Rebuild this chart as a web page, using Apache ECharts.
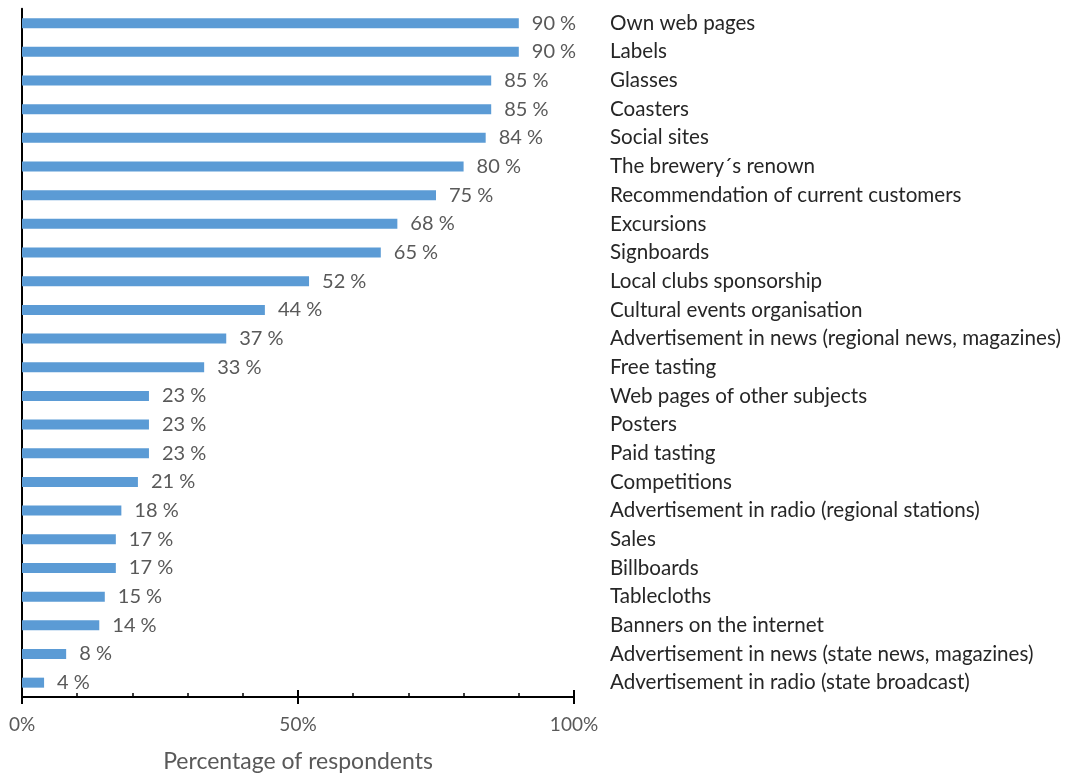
<!DOCTYPE html>
<html>
<head>
<meta charset="utf-8">
<script src="https://cdn.jsdelivr.net/npm/echarts@6/dist/echarts.min.js"></script>
<style>
html,body{margin:0;padding:0;background:#fff;}
#chart{width:1066px;height:778px;}
</style>
</head>
<body>
<div id="chart"></div>
<script>
const categories = [
  "Own web pages",
  "Labels",
  "Glasses",
  "Coasters",
  "Social sites",
  "The brewery´s renown",
  "Recommendation of current customers",
  "Excursions",
  "Signboards",
  "Local clubs sponsorship",
  "Cultural events organisation",
  "Advertisement in news (regional news, magazines)",
  "Free tasting",
  "Web pages of other subjects",
  "Posters",
  "Paid tasting",
  "Competitions",
  "Advertisement in radio (regional stations)",
  "Sales",
  "Billboards",
  "Tablecloths",
  "Banners on the internet",
  "Advertisement in news (state news, magazines)",
  "Advertisement in radio (state broadcast)"
];
const values = [90, 90, 85, 85, 84, 80, 75, 68, 65, 52, 44, 37, 33, 23, 23, 23, 21, 18, 17, 17, 15, 14, 8, 4];
const xTicks = [0, 50, 100];
const axisTitle = "Percentage of respondents";

const FONT = "Lato";
const chart = echarts.init(document.getElementById('chart'), null, {renderer: 'canvas'});
chart.setOption({
  animation: false,
  backgroundColor: '#ffffff',
  textStyle: {fontFamily: FONT},
  grid: {left: 22, top: 8.8, width: 552, height: 693.4, containLabel: false},
  xAxis: [
    {
      type: 'value', position: 'bottom', min: xTicks[0], max: xTicks[xTicks.length - 1], interval: xTicks[1] - xTicks[0],
      axisLine: {show: true, lineStyle: {color: '#000', width: 2}},
      axisTick: {show: true, inside: true, length: 7, lineStyle: {color: '#000', width: 2}},
      minorTick: {show: true, splitNumber: 5, length: 4, lineStyle: {color: '#000', width: 1.5}},
      splitLine: {show: false},
      axisLabel: {formatter: '{value}%', color: '#595959', fontSize: 19, fontFamily: FONT, margin: 18},
      name: axisTitle, nameLocation: 'middle', nameGap: 53,
      nameTextStyle: {color: '#595959', fontSize: 23, fontFamily: FONT}
    },
    {
      type: 'value', position: 'bottom', offset: 0, min: xTicks[0], max: xTicks[xTicks.length - 1], interval: xTicks[1] - xTicks[0],
      axisLine: {show: false},
      axisTick: {show: true, inside: false, length: 7, lineStyle: {color: '#000', width: 2}},
      axisLabel: {show: false}, splitLine: {show: false}
    }
  ],
  yAxis: [
    {
      type: 'category', data: categories, inverse: true, position: 'left',
      axisLine: {show: true, lineStyle: {color: '#000', width: 2}},
      axisTick: {show: false}, axisLabel: {show: false}
    },
    {
      type: 'category', data: categories, inverse: true, position: 'right',
      axisLine: {show: false}, axisTick: {show: false},
      axisLabel: {show: true, margin: 36, color: '#262626', fontSize: 20.6, fontFamily: FONT, align: 'left'}
    }
  ],
  series: [{
    type: 'bar', data: values, xAxisIndex: 0, yAxisIndex: 0, barWidth: 10,
    itemStyle: {color: '#5B9BD5'},
    label: {show: true, position: 'right', distance: 13, formatter: '{c} %', color: '#595959', fontSize: 20, fontFamily: FONT}
  }]
});
</script>
</body>
</html>
